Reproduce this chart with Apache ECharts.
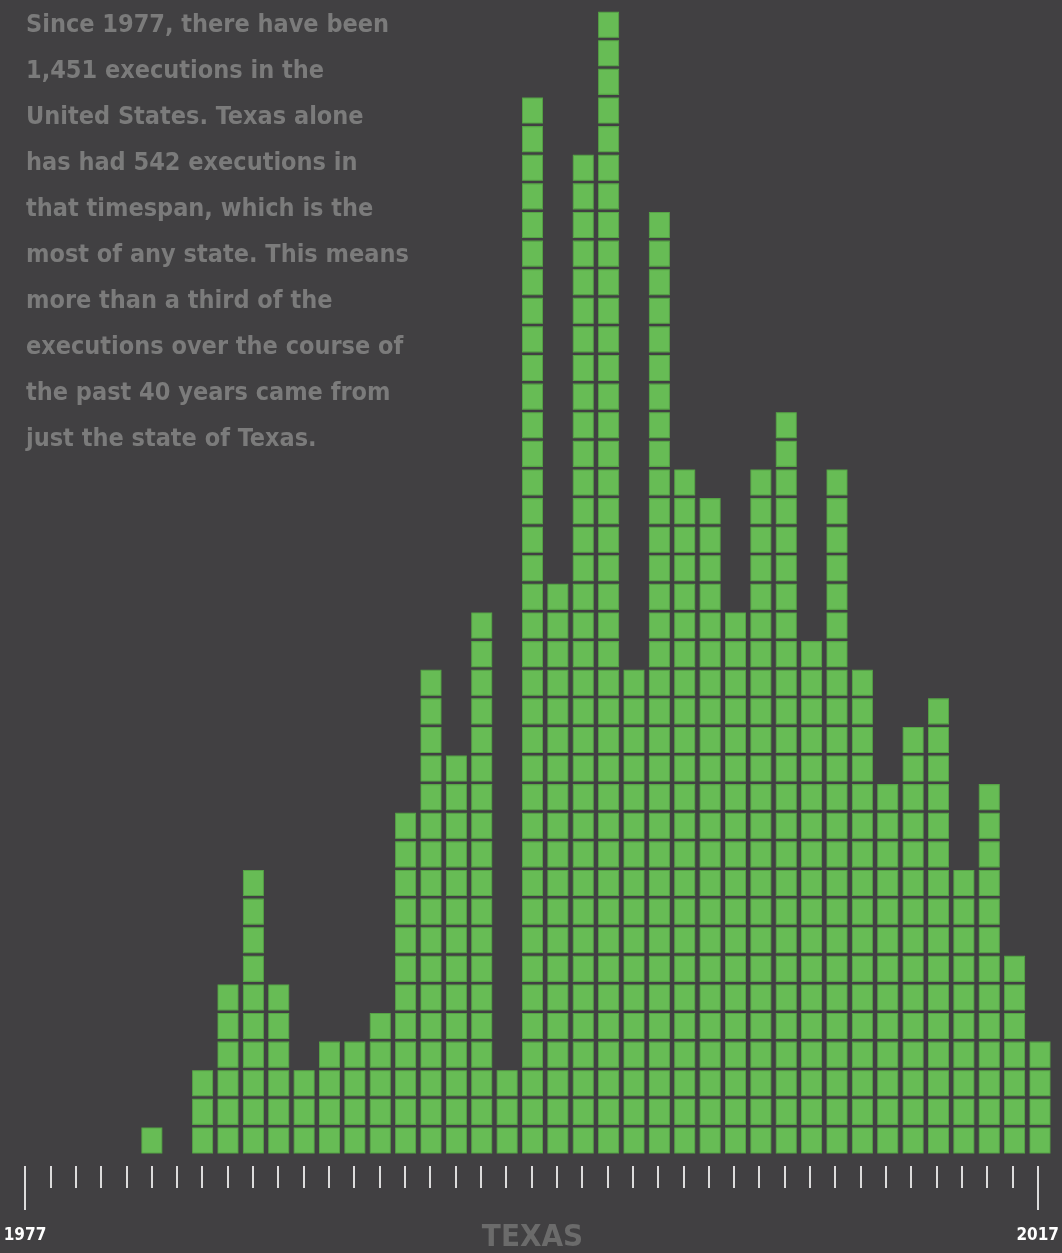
<!DOCTYPE html>
<html><head><meta charset="utf-8">
<script src="https://cdn.jsdelivr.net/npm/echarts@6/dist/echarts.min.js"></script>
<style>html,body{margin:0;padding:0;background:#414042;}#c{width:1062px;height:1253px;}</style>
</head><body><div id="c"></div>
<script>
const startYear = 1977;
const endYear = 2017;
const executions = [0,0,0,0,0,1,0,3,6,10,6,3,4,4,5,12,17,14,19,3,37,20,35,40,17,33,24,23,19,24,26,18,24,17,13,15,16,10,13,7,4];
const storyLines = [
  "Since 1977, there have been",
  "1,451 executions in the",
  "United States. Texas alone",
  "has had 542 executions in",
  "that timespan, which is the",
  "most of any state. This means",
  "more than a third of the",
  "executions over the course of",
  "the past 40 years came from",
  "just the state of Texas."
];
const stateName = "TEXAS";

const blocks = [];
executions.forEach((v, i) => {
  for (let k = 1; k <= v; k++) blocks.push([startYear + i, k - 0.5]);
});

const FONT = "'DejaVu Sans Condensed','Liberation Sans Narrow',sans-serif";
const chart = echarts.init(document.getElementById('c'), null, {renderer: 'canvas'});
chart.setOption({
  backgroundColor: '#414042',
  animation: false,
  title: {
    text: storyLines.join('\n'),
    left: 21, top: -3,
    textStyle: {color: '#7b7b7b', fontFamily: FONT, fontWeight: 'bold', fontSize: 25, lineHeight: 46}
  },
  grid: [
    {left: 25, right: 22, top: 10.4, bottom: 98.2},
    {left: 25, right: 22, top: 1160, bottom: 87}
  ],
  xAxis: [
    {type: 'value', gridIndex: 0, min: startYear, max: endYear, show: false},
    {type: 'value', gridIndex: 1, min: startYear, max: endYear, interval: 1,
     axisLine: {show: false}, splitLine: {show: false}, axisLabel: {show: false},
     axisTick: {show: true, length: 22, lineStyle: {color: '#dcdcdc', width: 2}}},
    {type: 'value', gridIndex: 1, min: startYear, max: endYear, interval: 40, position: 'bottom', offset: 0,
     axisLine: {show: false}, splitLine: {show: false},
     axisTick: {show: true, length: 44, lineStyle: {color: '#dcdcdc', width: 2}},
     axisLabel: {show: true, margin: 61, color: '#ffffff', fontFamily: FONT, fontWeight: 'bold', fontSize: 17,
       formatter: v => String(v)}}
  ],
  yAxis: [
    {type: 'value', gridIndex: 0, min: 0, max: 40, show: false},
    {type: 'value', gridIndex: 1, min: 0, max: 1, show: false}
  ],
  graphic: [{
    type: 'text', x: 532.5, y: 1222,
    style: {text: stateName, fill: '#6b6b6b', font: "bold 31px " + FONT, textAlign: 'center', textVerticalAlign: 'top'}
  }],
  series: [{
    type: 'scatter', xAxisIndex: 0, yAxisIndex: 0, data: blocks, symbol: 'rect', symbolSize: [20, 25],
    itemStyle: {color: '#67bc55', borderColor: '#56a346', borderWidth: 1, opacity: 1}
  }]
});
</script></body></html>
